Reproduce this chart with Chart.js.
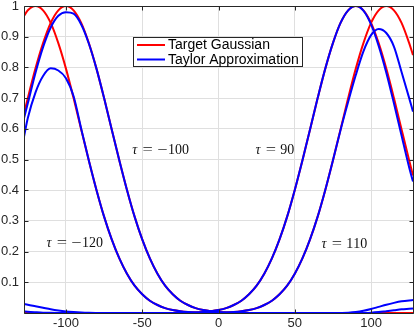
<!DOCTYPE html>
<html><head><meta charset="utf-8">
<script src="https://cdn.jsdelivr.net/npm/chart.js@4/dist/chart.umd.min.js"></script>
<style>html,body{margin:0;padding:0;background:#fff;overflow:hidden}canvas{display:block}</style>
</head><body>
<canvas id="c" width="415" height="333"></canvas>
<script>
// ---- data ----
const xValues = [-127.5, -125, -120, -115, -110, -105, -100, -95, -90, -85, -80, -75, -70, -65, -60, -55, -50, -45, -40, -35, -30, -25, -20, -15, -10, -5, 0, 5, 10, 15, 20, 25, 30, 35, 40, 45, 50, 55, 60, 65, 70, 75, 80, 85, 90, 95, 100, 105, 110, 115, 120, 125, 127.5];

const targetM120 = [0.968, 0.986, 1, 0.986, 0.945, 0.879, 0.796, 0.700, 0.598, 0.497, 0.401, 0.314, 0.240, 0.178, 0.128, 0.089, 0.061, 0.040, 0.026, 0.016, 0.0098, 0.0058, 0.0033, 0.0018, 0.001, 0.0005, 0.0003, 0.0001,
  0, 0, 0, 0, 0, 0, 0, 0, 0, 0, 0, 0, 0, 0, 0, 0, 0, 0, 0, 0, 0, 0, 0, 0, 0];
const targetM100 = [0.649, 0.700, 0.796, 0.879, 0.945, 0.986, 1, 0.986, 0.945, 0.879, 0.796, 0.700, 0.598, 0.497, 0.401, 0.314, 0.240, 0.178, 0.128, 0.089, 0.061, 0.040, 0.026, 0.016, 0.0098, 0.0058, 0.0033, 0.0018, 0.001, 0.0005, 0.0003, 0.0001,
  0, 0, 0, 0, 0, 0, 0, 0, 0, 0, 0, 0, 0, 0, 0, 0, 0, 0, 0, 0, 0];
const target90 = [0, 0, 0, 0, 0, 0, 0, 0, 0, 0, 0, 0, 0, 0, 0, 0, 0, 0, 0,
  0.0001, 0.0003, 0.0005, 0.001, 0.0018, 0.0033, 0.0058, 0.0098, 0.016, 0.026, 0.040, 0.061, 0.089, 0.128, 0.178, 0.240, 0.314, 0.401, 0.497, 0.598, 0.700, 0.796, 0.879, 0.945, 0.986, 1,
  0.986, 0.945, 0.879, 0.796, 0.700, 0.598, 0.497, 0.448];
const target110 = [0, 0, 0, 0, 0, 0, 0, 0, 0, 0, 0, 0, 0, 0, 0, 0, 0, 0, 0, 0, 0, 0, 0,
  0.0001, 0.0003, 0.0005, 0.001, 0.0018, 0.0033, 0.0058, 0.0098, 0.016, 0.026, 0.040, 0.061, 0.089, 0.128, 0.178, 0.240, 0.314, 0.401, 0.497, 0.598, 0.700, 0.796, 0.879, 0.945, 0.986, 1,
  0.986, 0.945, 0.879, 0.840];

const taylorM120 = [0.574, 0.635, 0.718, 0.772, 0.797, 0.790, 0.765, 0.706, 0.600, 0.497, 0.401, 0.314, 0.240, 0.178, 0.128, 0.089, 0.061, 0.040, 0.026, 0.016, 0.0098, 0.0058, 0.0033, 0.0018, 0.001, 0.0005, 0.0003, 0.0001,
  0, 0, 0, 0, 0, 0, 0, 0, 0, 0, 0, 0, 0, 0,
  0.0003, 0.001, 0.003, 0.007, 0.013, 0.020, 0.027, 0.033, 0.038, 0.041, 0.042];
const taylorM100 = [0.634, 0.683, 0.782, 0.866, 0.930, 0.968, 0.980, 0.975, 0.940, 0.878, 0.796,
  0.700, 0.598, 0.497, 0.401, 0.314, 0.240, 0.178, 0.128, 0.089, 0.061, 0.040, 0.026, 0.016, 0.0098, 0.0058, 0.0033, 0.0018, 0.001, 0.0005, 0.0003, 0.0001,
  0, 0, 0, 0, 0, 0, 0, 0, 0, 0, 0, 0, 0,
  0.0002, 0.001, 0.003, 0.006, 0.009, 0.012, 0.014, 0.015];
const taylor90 = [0.005, 0.004, 0.0025, 0.0012, 0.0005, 0.0001,
  0, 0, 0, 0, 0, 0, 0, 0, 0, 0, 0, 0, 0,
  0.0001, 0.0003, 0.0005, 0.001, 0.0018, 0.0033, 0.0058, 0.0098, 0.016, 0.026, 0.040, 0.061, 0.089, 0.128, 0.178, 0.240, 0.314, 0.401, 0.497, 0.598, 0.700, 0.796, 0.879, 0.945, 0.986, 1,
  0.985, 0.940, 0.870, 0.783, 0.683, 0.578, 0.474, 0.428];
const taylor110 = [0.029, 0.027, 0.022, 0.017, 0.012, 0.008, 0.005, 0.003, 0.0015, 0.0006, 0.0002,
  0, 0, 0, 0, 0, 0, 0, 0, 0, 0, 0, 0,
  0.0001, 0.0003, 0.0005, 0.001, 0.0018, 0.0033, 0.0058, 0.0098, 0.016, 0.026, 0.040, 0.061, 0.089, 0.128, 0.178, 0.240, 0.314, 0.401,
  0.497, 0.596, 0.688, 0.775, 0.852, 0.905, 0.925, 0.912, 0.868, 0.785, 0.700, 0.656];

const xTicks = [-100, -50, 0, 50, 100];
const yTicks = [0, 0.1, 0.2, 0.3, 0.4, 0.5, 0.6, 0.7, 0.8, 0.9, 1];
const legendLabels = ['Target Gaussian', 'Taylor Approximation'];
const tauValues = ['\u2212100', '90', '\u2212120', '110'];
const tauAtX = [-56.5, 24.2, -112.8, 67.5];
const tauAtY = [0.533, 0.533, 0.229, 0.227];

// ---- chart ----
const RED = '#ff0000', BLUE = '#0000ff', AX = '#262626';
const pts = ys => ys.map((y, i) => ({ x: xValues[i], y }));
const line = (ys, color, order) => ({
  data: pts(ys), borderColor: color, borderWidth: 2, pointRadius: 0,
  cubicInterpolationMode: 'monotone', fill: false, order
});

// draw a glyph stretched horizontally to fill a TeX-like box
function wideGlyph(ctx, g, cx, base, boxW, stretch) {
  const w = ctx.measureText(g).width;
  ctx.save();
  ctx.translate(cx + boxW / 2, base);
  ctx.scale(stretch, 1);
  ctx.fillText(g, -w / 2, 0);
  ctx.restore();
}

// draws "τ = value" with TeX-like spacing
function drawTau(ctx, x, yc, v) {
  const em = 14, base = yc + 4.7;
  ctx.textBaseline = 'alphabetic';
  ctx.textAlign = 'left';
  ctx.font = 'italic 14px "Liberation Serif"';
  ctx.fillText('\u03c4', x, base);
  ctx.font = '14px "Liberation Serif"';
  let cx = x + 0.437 * em + 0.2777 * em;
  const relW = 0.777 * em;
  wideGlyph(ctx, '=', cx, base, relW, 1.3);
  cx += relW + 0.2777 * em;
  let digits = v;
  if (v[0] === '\u2212') {
    wideGlyph(ctx, '\u2212', cx, base, relW, 1.3);
    cx += relW;
    digits = v.slice(1);
  }
  for (const d of digits) { ctx.fillText(d, cx, base); cx += 0.5 * em; }
}

const decor = {
  id: 'decor',
  afterDatasetsDraw(chart) {
    const { ctx, chartArea: a, scales: { x, y } } = chart;
    ctx.save();
    ctx.fillStyle = '#111';
    tauValues.forEach((v, i) => {
      drawTau(ctx, x.getPixelForValue(tauAtX[i]), y.getPixelForValue(tauAtY[i]), v);
    });
    // frame and inward ticks
    const L = Math.round(a.left) + 0.5, R = Math.round(a.right) + 0.5;
    const T = Math.round(a.top) + 0.5, B = Math.round(a.bottom) + 0.5;
    ctx.strokeStyle = AX; ctx.lineWidth = 1;
    ctx.beginPath();
    ctx.moveTo(L, T); ctx.lineTo(R, T); ctx.lineTo(R, B); ctx.lineTo(L, B); ctx.closePath();
    const tl = 4;
    xTicks.forEach(v => {
      const p = Math.round(x.getPixelForValue(v)) + 0.5;
      ctx.moveTo(p, B); ctx.lineTo(p, B - tl);
      ctx.moveTo(p, T); ctx.lineTo(p, T + tl);
    });
    yTicks.forEach(v => {
      const p = Math.round(y.getPixelForValue(v)) + 0.5;
      ctx.moveTo(L, p); ctx.lineTo(L + tl, p);
      ctx.moveTo(R, p); ctx.lineTo(R - tl, p);
    });
    ctx.stroke();
    // legend
    const bx = 133.5, by = 37.5, bw = 169, bh = 29;
    ctx.fillStyle = '#fff';
    ctx.fillRect(bx, by, bw, bh);
    ctx.strokeStyle = AX;
    ctx.strokeRect(bx, by, bw, bh);
    const cols = [RED, BLUE], rows = [45, 59.5];
    ctx.font = '14px "Liberation Sans"';
    ctx.textBaseline = 'middle';
    legendLabels.forEach((t, i) => {
      ctx.strokeStyle = cols[i]; ctx.lineWidth = 2;
      ctx.beginPath(); ctx.moveTo(137, rows[i]); ctx.lineTo(165, rows[i]); ctx.stroke();
      ctx.fillStyle = '#000';
      ctx.fillText(t, 168, rows[i] + 0.5);
    });
    ctx.restore();
  }
};

new Chart(document.getElementById('c'), {
  type: 'line',
  data: {
    datasets: [
      line(taylorM120, BLUE, 0), line(taylorM100, BLUE, 0), line(taylor90, BLUE, 0), line(taylor110, BLUE, 0),
      line(targetM120, RED, 1), line(targetM100, RED, 1), line(target90, RED, 1), line(target110, RED, 1)
    ]
  },
  options: {
    responsive: false, animation: false, devicePixelRatio: 1,
    layout: { padding: { top: 6, right: 2, left: 0, bottom: 0 } },
    plugins: { legend: { display: false }, tooltip: { enabled: false } },
    scales: {
      x: {
        type: 'linear', min: -127.5, max: 127.5,
        afterBuildTicks: s => { s.ticks = xTicks.map(v => ({ value: v })); },
        afterFit: s => { s.height = 20; s.paddingLeft = 0; s.paddingRight = 0; },
        grid: { color: '#dfdfdf', drawTicks: false, lineWidth: 1 },
        border: { display: false },
        ticks: { padding: 3, color: AX, font: { family: 'Liberation Sans', size: 13 }, maxRotation: 0,
          callback: v => String(v) }
      },
      y: {
        min: 0, max: 1,
        afterBuildTicks: s => { s.ticks = yTicks.map(v => ({ value: v })); },
        afterFit: s => { s.width = 24; s.paddingTop = 0; s.paddingBottom = 0; },
        grid: { color: '#dfdfdf', drawTicks: false, lineWidth: 1 },
        border: { display: false },
        ticks: { padding: 5, color: AX, font: { family: 'Liberation Sans', size: 13 },
          callback: v => v === 0 ? '' : String(Math.round(v * 10) / 10) }
      }
    }
  },
  plugins: [decor]
});
</script>
</body></html>
